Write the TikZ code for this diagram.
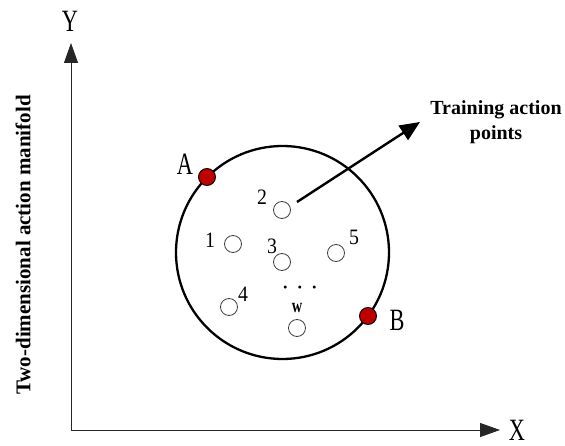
\documentclass[tikz,border=0pt]{standalone}
\usepackage{fontspec}
\setmainfont{Liberation Serif}
\newfontfamily\narrowserif[FakeStretch=0.72]{Liberation Serif}
\newfontfamily\numserif[FakeStretch=0.9]{Liberation Serif}
\usetikzlibrary{arrows.meta}
\begin{document}
\begin{tikzpicture}[x=1pt,y=-1pt,
  pt/.style={circle,draw=black!75,line width=0.8pt,minimum size=17pt,inner sep=0pt},
  redpt/.style={circle,draw=black,fill=red!75!black,line width=0.9pt,minimum size=17pt,inner sep=0pt},
  lbl/.style={font=\narrowserif\fontsize{31}{31}\selectfont,inner sep=0pt},
  num/.style={font=\numserif\fontsize{22}{22}\selectfont,inner sep=0pt},
  axis/.style={line width=0.9pt,black!85,-{Triangle[length=20pt,width=14pt]}}]
\useasboundingbox (0,0) rectangle (565,446);
% axes
\coordinate (O) at (71,430);
\coordinate (Ytip) at (71,43);
\coordinate (Xtip) at (500,430);
\draw[axis] (O) -- (Ytip);
\draw[axis] (O) -- (Xtip);
\node[lbl] (Y) at (70,21) {Y};
\node[lbl] (X) at (517,430) {X};
\node[rotate=90,font=\bfseries\fontsize{21}{21}\selectfont,inner sep=0pt] (ylab) at (23,245) {Two-dimensional action manifold};
% big circle
\node[circle,draw,line width=2.3pt,minimum size=213pt,inner sep=0pt] (C) at (282.5,252.5) {};
% points
\node[pt] (p2) at (282,210) {};
\node[pt] (p1) at (233,244) {};
\node[pt] (p3) at (282,262) {};
\node[pt] (p5) at (336,253) {};
\node[pt] (p4) at (229,307) {};
\node[pt] (pw) at (297,328) {};
\node[num] (l2) at (262,197) {2};
\node[num] (l1) at (210,240) {1};
\node[num] (l3) at (272,246) {3};
\node[num] (l5) at (354,237) {5};
\node[num] (l4) at (243,294) {4};
\node[font=\bfseries\narrowserif\fontsize{20}{20}\selectfont,inner sep=0pt] (lw) at (297,308) {w};
\node[font=\bfseries\fontsize{18}{18}\selectfont,inner sep=0pt] (dots) at (300,290) {·\hspace{8.5pt}·\hspace{8.5pt}·};
% A and B
\node[redpt] (A) at (207,177) {};
\node[redpt] (B) at (368,316) {};
\node[lbl] (lA) at (185,164) {A};
\node[lbl] (lB) at (397,320) {B};
% arrow to label
\coordinate (s) at (297,202);
\coordinate (tip) at (420,122);
\draw[line width=2.4pt,-{Triangle[length=20pt,width=17pt]}] (s) -- (tip);
\node[font=\bfseries\fontsize{20}{25}\selectfont,align=center,inner sep=0pt,anchor=base] (tr) at (496,140) {Training action\\points};
\end{tikzpicture}
\end{document}
